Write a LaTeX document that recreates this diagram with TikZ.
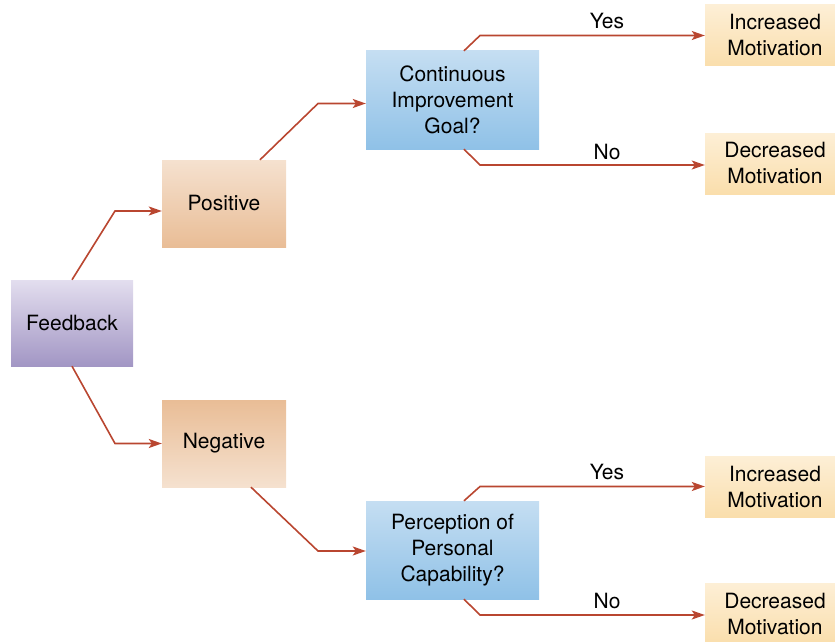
\documentclass[tikz,border=0pt]{standalone}
\usepackage{fontspec}
\setmainfont{TeX Gyre Heros}
\usepackage{tikz}
\usetikzlibrary{
	arrows.meta,
	calc,
	positioning
}
\definecolor{LineRed}{RGB}{185,70,48}
\definecolor{LilacTop}{RGB}{227,222,239}
\definecolor{LilacBot}{RGB}{162,150,196}
\definecolor{PeachLight}{RGB}{245,225,207}
\definecolor{PeachDark}{RGB}{233,189,150}
\definecolor{SkyTop}{RGB}{197,222,242}
\definecolor{SkyBot}{RGB}{143,193,231}
\definecolor{CreamTop}{RGB}{253,239,214}
\definecolor{CreamBot}{RGB}{250,222,172}

\begin{document}
\begin{tikzpicture}[x=1pt, y=-1pt,
		box/.style={inner sep=0pt, align=center, font=\fontsize{21}{26}\selectfont},
		conn/.style={LineRed, line width=1.6pt, -{Stealth[length=13pt, width=9pt, inset=3pt]}},
		lbl/.style={font=\fontsize{21}{26}\selectfont}]
			\useasboundingbox (0,0) rectangle (835,642);
			% Anfang
			\node[box, minimum width=122pt, minimum height=86pt, top color=LilacTop, bottom color=LilacBot] (fb) at (72,323) {Feedback};
			% Zweige
			\node[box, minimum width=124pt, minimum height=87pt, top color=PeachLight, bottom color=PeachDark] (pos) at (224,203.5) {Positive};
			\node[box, minimum width=124pt, minimum height=87pt, top color=PeachDark, bottom color=PeachLight] (neg) at (224,443.5) {Negative};
			% Fragen
			\node[box, minimum width=173pt, minimum height=98pt, top color=SkyTop, bottom color=SkyBot] (cig) at (452.5,100) {Continuous\\Improvement\\Goal?};
			\node[box, minimum width=173pt, minimum height=98pt, top color=SkyTop, bottom color=SkyBot] (ppc) at (452.5,550) {Perception of\\Personal\\Capability?};
			% Ergebnisse
			\node[box, minimum width=140pt, minimum height=61pt, top color=CreamTop, bottom color=CreamBot] (inc1) at (775,35.5) {Increased\\Motivation};
			\node[box, minimum width=140pt, minimum height=61pt, top color=CreamTop, bottom color=CreamBot] (dec1) at (775,163.5) {Decreased\\Motivation};
			\node[box, minimum width=140pt, minimum height=61pt, top color=CreamTop, bottom color=CreamBot] (inc2) at (775,486.5) {Increased\\Motivation};
			\node[box, minimum width=140pt, minimum height=61pt, top color=CreamTop, bottom color=CreamBot] (dec2) at (775,613.5) {Decreased\\Motivation};
			% Knicke
			\coordinate (k1) at (115,211);
			\coordinate (k2) at (115,443.5);
			\coordinate (k3) at (318,103.5);
			\coordinate (k4) at (318,551);
			\coordinate (k5) at (480,35.5);
			\coordinate (k6) at (480,165);
			\coordinate (k7) at (480,486.5);
			\coordinate (k8) at (480,615);
			% Pfeile
			\draw[conn] (fb.north) -- (k1) -- (k1 -| pos.west);
			\draw[conn] (fb.south) -- (k2) -- (k2 -| neg.west);
			\draw[conn] ([xshift=36pt]pos.north) -- (k3) -- (k3 -| cig.west);
			\draw[conn] ([xshift=27pt]neg.south) -- (k4) -- (k4 -| ppc.west);
			\draw[conn] ([xshift=11.5pt]cig.north) -- (k5) -- (k5 -| inc1.west);
			\draw[conn] ([xshift=11.5pt]cig.south) -- (k6) -- (k6 -| dec1.west);
			\draw[conn] ([xshift=11.5pt]ppc.north) -- (k7) -- (k7 -| inc2.west);
			\draw[conn] ([xshift=11.5pt]ppc.south) -- (k8) -- (k8 -| dec2.west);
			% Beschriftung
			\node[lbl] (yes1) at (607,21) {Yes};
			\node[lbl] (no1) at (607,152) {No};
			\node[lbl] (yes2) at (607,472) {Yes};
			\node[lbl] (no2) at (607,601) {No};
		\end{tikzpicture}
\end{document}
